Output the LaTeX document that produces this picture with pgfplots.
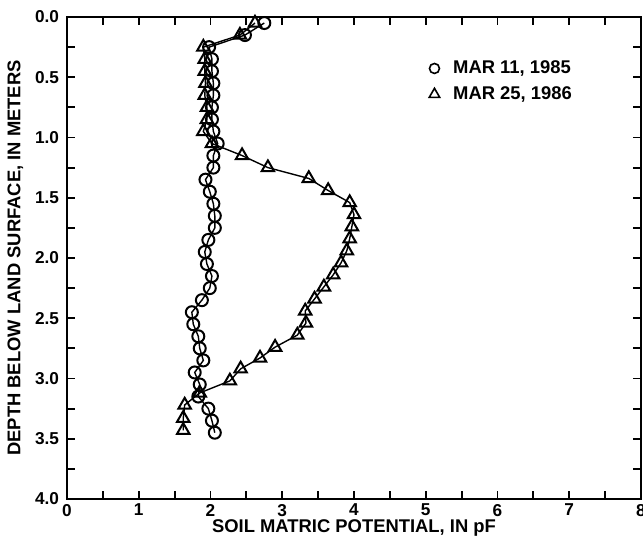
\documentclass[border=0pt]{standalone}
\usepackage{fontspec}
\setmainfont{Liberation Sans}
\usepackage{pgfplots}
\pgfplotsset{compat=1.18}

\begin{document}
\begin{tikzpicture}
\begin{axis}[
  scale only axis,
  width=287pt, height=241pt,
  xmin=0, xmax=8, ymin=0, ymax=4,
  y dir=reverse,
  xtick={0,1,...,8},
  ytick={0,0.5,...,4},
  minor x tick num=1,
  minor y tick num=1,
  yticklabel style={xshift=-0.5pt, /pgf/number format/.cd, fixed, fixed zerofill, precision=1},
  /pgf/number format/assume math mode=true,
  tick label style={font=\fontsize{8.6}{10}\selectfont\bfseries},
  xticklabel style={yshift=1pt},
  label style={font=\fontsize{9.2}{10}\selectfont\bfseries},
  xlabel={SOIL MATRIC POTENTIAL, IN pF},
  ylabel={DEPTH BELOW LAND SURFACE, IN METERS},
  xlabel style={yshift=5pt},
  ylabel style={yshift=-1pt},
  axis line style={line width=1.3pt},
  major tick length=4pt, minor tick length=4pt,
  every tick/.style={black, line width=0.9pt},
  legend style={font=\fontsize{9.2}{10}\selectfont\bfseries, draw=none, fill=none,
                at={(0.62,0.925)}, anchor=north west, row sep=2pt,
                nodes={inner sep=1.5pt}},
  legend cell align=left,
  legend image code/.code={\draw[#1] plot coordinates {(0.13cm,0cm)};
                           \path (0.4cm,0cm);},
]
\coordinate (bbA) at (axis cs:-0.934,4.340);
\coordinate (bbB) at (axis cs:8.028,-0.141);

% MAR 11, 1985
\addplot[forget plot, black, line width=0.7pt, mark=o, mark size=3pt,
  mark options={line width=1pt}] coordinates {
  (2.75,0.05) (2.48,0.15) (1.98,0.25) (2.02,0.35) (2.02,0.45)
  (2.04,0.55) (2.04,0.65) (2.02,0.75) (2.02,0.85) (2.04,0.95)
  (2.10,1.05) (2.04,1.15) (2.04,1.25) (1.93,1.35) (1.99,1.45)
  (2.04,1.55) (2.06,1.65) (2.06,1.75) (1.97,1.85) (1.92,1.95)
  (1.95,2.05) (2.02,2.15) (1.99,2.25) (1.88,2.35) (1.74,2.45)
  (1.76,2.55) (1.83,2.65) (1.85,2.75) (1.90,2.85) (1.78,2.95)
  (1.85,3.05) (1.83,3.15) (1.97,3.25) (2.02,3.35) (2.06,3.45)
};
% MAR 25, 1986
\addplot[forget plot, black, line width=0.7pt, mark=triangle, mark size=3.6pt,
  mark options={line width=1pt}] coordinates {
  (2.62,0.05) (2.41,0.15) (1.90,0.25) (1.92,0.35) (1.92,0.45)
  (1.93,0.55) (1.92,0.65) (1.95,0.75) (1.95,0.85) (1.90,0.95)
  (2.02,1.05) (2.44,1.15) (2.80,1.25) (3.37,1.34) (3.64,1.44)
  (3.94,1.54) (4.00,1.64) (3.97,1.74) (3.94,1.84) (3.90,1.94)
  (3.82,2.04) (3.71,2.14) (3.58,2.24) (3.45,2.34) (3.32,2.44)
  (3.33,2.54) (3.21,2.64) (2.90,2.74) (2.69,2.83) (2.42,2.92)
  (2.27,3.02) (1.85,3.12) (1.64,3.22) (1.62,3.33) (1.62,3.43)
};

\addlegendimage{only marks, black, mark=o, mark size=2.5pt, mark options={line width=0.8pt}}
\addlegendentry{MAR 11, 1985}
\addlegendimage{only marks, black, mark=triangle, mark size=3pt, mark options={line width=0.8pt}}
\addlegendentry{MAR 25, 1986}
\end{axis}
\pgfresetboundingbox
\path[use as bounding box] (bbA) rectangle (bbB);
\end{tikzpicture}
\end{document}
